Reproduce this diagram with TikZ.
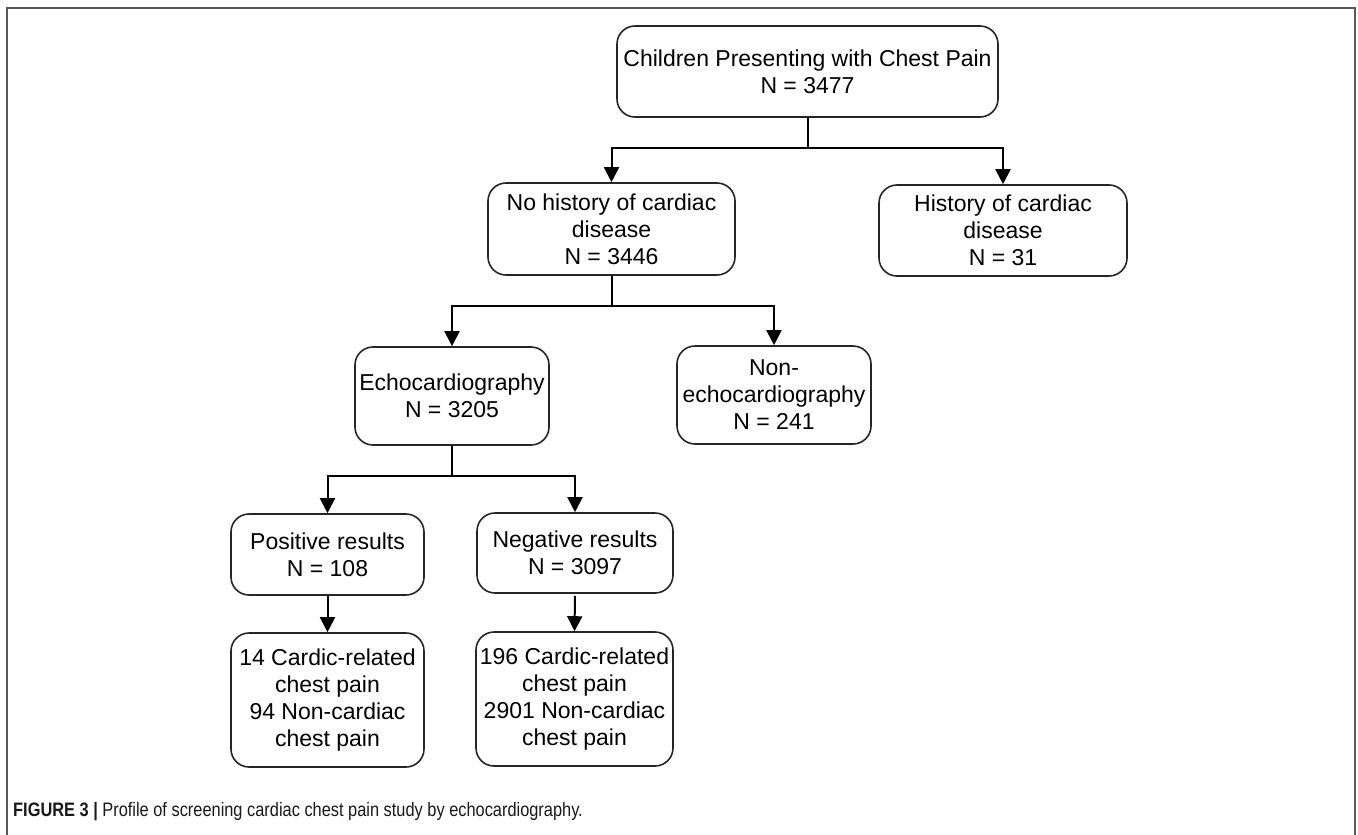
\documentclass[tikz,border=0pt]{standalone}
\usepackage{fontspec}
\setmainfont{Liberation Sans}
\newfontfamily\capfont[FakeStretch=0.84]{Liberation Sans}
\usetikzlibrary{arrows.meta}
\begin{document}
\begin{tikzpicture}[x=1pt,y=-1pt,
    blk/.style={draw=black!85,line width=1.6pt,rounded corners=18pt,align=center,
      inner sep=2pt,font=\fontsize{23}{27}\selectfont},
    link/.style={line width=2pt,-{Triangle[width=15pt,length=15pt]}}]
  \useasboundingbox (0,0) rectangle (1358,835);
  \draw[gray!70!black,line width=2pt] (7,835) -- (7,8) -- (1355,8) -- (1355,835);
  % boxes
  \node[blk,minimum width=381pt,minimum height=91pt] (kids) at (807.5,71.5) {Children Presenting with Chest Pain\\N = 3477};
  \node[blk,minimum width=247pt,minimum height=92pt] (nohist) at (611.5,229) {No history of cardiac\\disease\\N = 3446};
  \node[blk,minimum width=248pt,minimum height=91pt] (hist) at (1003,230.5) {History of cardiac\\disease\\N = 31};
  \node[blk,minimum width=194pt,minimum height=98pt] (echo) at (452,396) {Echocardiography\\N = 3205};
  \node[blk,minimum width=194pt,minimum height=98pt] (nonecho) at (774,395) {Non-\\echocardiography\\N = 241};
  \node[blk,minimum width=193pt,minimum height=81pt] (pos) at (327.5,554.5) {Positive results\\N = 108};
  \node[blk,minimum width=196pt,minimum height=80pt] (neg) at (575,553) {Negative results\\N = 3097};
  \node[blk,minimum width=193pt,minimum height=134pt] (posres) at (327.5,700) {14 Cardic-related\\chest pain\\94 Non-cardiac\\chest pain};
  \node[blk,minimum width=197pt,minimum height=134pt] (negres) at (574.5,699) {196 Cardic-related\\chest pain\\2901 Non-cardiac\\chest pain};
  % connectors
  \draw[link] (kids.south) -- ++(0,30) -| (nohist.north);
  \draw[link] (kids.south) -- ++(0,30) -| (hist.north);
  \draw[link] (nohist.south) -- ++(0,30) -| (echo.north);
  \draw[link] (nohist.south) -- ++(0,30) -| (nonecho.north);
  \draw[link] (echo.south) -- ++(0,30) -| (pos.north);
  \draw[link] (echo.south) -- ++(0,30) -| (neg.north);
  \draw[link] (pos.south) -- (posres.north);
  \draw[link] ([yshift=-2pt]neg.south) -- (negres.north);
  % caption
  \node[anchor=west,inner sep=0pt,font=\capfont\fontsize{19.5}{22}\selectfont,text=black!90] (cap) at (13,812)
    {\textbf{FIGURE 3 |} Profile of screening cardiac chest pain study by echocardiography.};
\end{tikzpicture}
\end{document}
